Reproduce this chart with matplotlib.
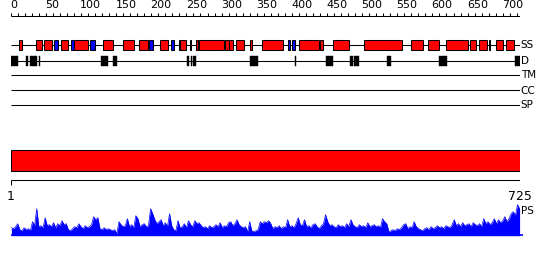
import matplotlib
matplotlib.use("Agg")
import matplotlib.pyplot as plt
from matplotlib.patches import Rectangle
import numpy as np

# ---------------- data ----------------
seq_len = 725
ruler_major = list(range(0, 701, 50))
ruler_minor = list(range(0, 721, 10))

# secondary structure elements: (start, end, type) H = helix (red), E = strand (blue)
ss_elements = [
    (12, 16, "H"), (36, 44, "H"), (48, 59, "H"), (62, 67, "E"), (72, 81, "H"),
    (86, 90, "E"), (90, 110, "H"), (113, 120, "E"), (132, 145, "H"), (160, 175, "H"),
    (183, 195, "H"), (197, 202, "E"), (212, 224, "H"), (228, 233, "E"), (239, 241, "E"),
    (241, 249, "H"), (255, 256, "H"), (263, 266, "H"), (268, 303, "H"), (305, 310, "H"),
    (310, 316, "H"), (320, 332, "H"), (340, 343, "H"), (358, 387, "H"), (394, 398, "E"),
    (400, 404, "E"), (410, 438, "H"), (440, 444, "H"), (458, 481, "H"), (502, 557, "H"),
    (570, 586, "H"), (594, 610, "H"), (620, 650, "H"), (654, 662, "H"), (666, 678, "H"),
    (680, 682, "H"), (690, 701, "H"), (705, 716, "H"),
]

# disordered regions (start, end)
disorder = [
    (0, 11), (22, 24), (28, 38), (40, 42), (129, 138), (145, 151), (251, 254),
    (256, 258), (260, 263), (340, 352), (404, 406), (448, 458), (483, 487),
    (489, 496), (535, 541), (610, 621), (718, 725),
]

track_labels = ["SS", "D", "TM", "CC", "SP"]

ps_positions = list(range(1, 725, 3))
ps_scores = [
    8, 7, 9, 12, 6, 5, 8, 6, 7, 5, 14, 10, 27, 9, 10, 8, 18, 10, 11, 9,
    13, 8, 12, 10, 15, 11, 12, 6, 5, 7, 9, 8, 12, 9, 7, 10, 8, 9, 11, 19,
    16, 18, 7, 6, 8, 6, 7, 6, 5, 6, 2, 14, 11, 9, 10, 17, 9, 11, 8, 20,
    17, 9, 11, 12, 9, 10, 27, 22, 16, 12, 14, 16, 10, 13, 9, 22, 10, 6, 5, 15,
    8, 9, 12, 8, 15, 11, 9, 15, 12, 13, 10, 8, 9, 7, 10, 8, 9, 11, 9, 13,
    8, 10, 9, 13, 14, 10, 12, 16, 11, 9, 8, 9, 4, 14, 5, 4, 5, 6, 14, 12,
    14, 13, 15, 12, 7, 9, 8, 10, 7, 9, 8, 16, 9, 10, 8, 12, 18, 11, 10, 16,
    9, 10, 8, 11, 12, 9, 7, 10, 12, 21, 14, 10, 11, 9, 8, 11, 9, 10, 8, 12,
    9, 16, 11, 9, 8, 11, 9, 10, 8, 13, 9, 10, 11, 9, 10, 8, 17, 14, 12, 4,
    5, 6, 5, 7, 6, 8, 11, 12, 7, 9, 8, 14, 9, 7, 6, 5, 7, 8, 6, 9,
    7, 8, 10, 8, 9, 7, 10, 9, 8, 11, 16, 10, 12, 9, 13, 10, 11, 12, 9, 13,
    11, 10, 12, 9, 17, 12, 14, 11, 13, 17, 12, 16, 13, 15, 19, 14, 17, 22, 24, 20,
    31, 27,
]

# ---------------- figure ----------------
W, H = 550, 260
fig = plt.figure(figsize=(W / 100, H / 100), dpi=100)
fig.patch.set_facecolor("white")

x0_px, x1_px = 10.7, 520.3
ax = fig.add_axes([x0_px / W, 0, (x1_px - x0_px) / W, 1])
ax.set_xlim(0, seq_len)
ax.set_ylim(H, 0)
ax.axis("off")

LW = 0.75
RED = "#ff0000"
BLUE = "#0000ff"
narrow = ["Liberation Sans Narrow", "DejaVu Sans"]

# top ruler
ruler_y = 15.5
ax.plot([0, seq_len], [ruler_y, ruler_y], color="black", lw=LW, solid_capstyle="butt")
for t in ruler_minor:
    ax.plot([t, t], [ruler_y, ruler_y - 3], color="black", lw=LW, solid_capstyle="butt")
for t in ruler_major:
    ax.text(t - 1, 10.5, str(t), ha="left", va="bottom", fontsize=8,
            family=narrow, color="black")

# tracks
track_y = {"SS": 45, "D": 60.5, "TM": 75, "CC": 90, "SP": 105}
for name in track_labels:
    y = track_y[name]
    ax.plot([0, seq_len], [y, y], color="black", lw=LW, solid_capstyle="butt", zorder=1)
    ax.text(seq_len + 0.5, y + 0.5, name, ha="left", va="center", fontsize=7.5,
            family="DejaVu Sans", color="black", clip_on=False)

for s, e, t in ss_elements:
    y = track_y["SS"]
    ax.add_patch(Rectangle((s, y - 5), e - s, 10, facecolor=RED if t == "H" else BLUE,
                           edgecolor="black", lw=LW, zorder=3))

for s, e in disorder:
    y = track_y["D"]
    ax.add_patch(Rectangle((s, y - 5), e - s, 10.5, facecolor="black",
                           edgecolor="black", lw=0.3, zorder=3))

# full-length red bar
ax.add_patch(Rectangle((0, 150), seq_len, 20.5, facecolor=RED, edgecolor="black",
                       lw=LW, zorder=3))

# bottom ruler
by = 180.3
ax.plot([0, seq_len], [by, by], color="black", lw=LW, solid_capstyle="butt")
for t in [0, seq_len]:
    ax.plot([t, t], [by, by + 4.5], color="black", lw=LW, solid_capstyle="butt")
ax.text(0, 189.5, "1", ha="center", va="top", fontsize=9, family="DejaVu Sans")
ax.text(seq_len, 189.5, str(seq_len), ha="center", va="top", fontsize=9,
        family="DejaVu Sans")
ax.text(seq_len + 0.7, 211, "PS", ha="left", va="center", fontsize=7.5,
        family="DejaVu Sans", clip_on=False)

# PS profile
ps_base = 235.7
ax_ps = fig.add_axes([x0_px / W, (H - ps_base) / H, (x1_px - x0_px) / W, 32 / H])
ax_ps.set_xlim(0, seq_len)
ax_ps.set_ylim(0, 32)
ax_ps.axis("off")
ax_ps.fill_between(ps_positions, 0, ps_scores, color=BLUE, lw=0)
ax_ps.plot(ps_positions, ps_scores, color=BLUE, lw=0.5)
ax_ps.plot([0, seq_len + 4], [0.3, 0.3], color=BLUE, lw=1.2, clip_on=False,
           solid_capstyle="butt")

fig.savefig("out.png", dpi=100, facecolor="white")
